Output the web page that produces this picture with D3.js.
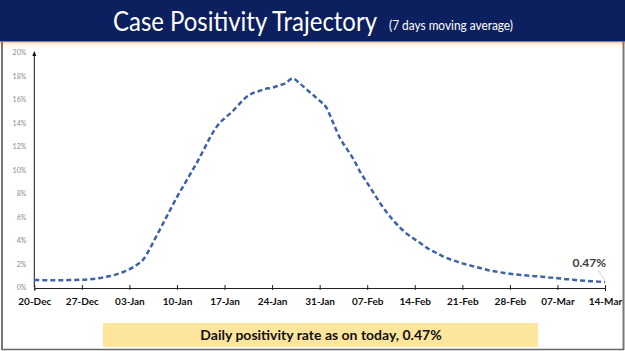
<!DOCTYPE html>
<html>
<head>
<meta charset="utf-8">
<script src="https://cdn.jsdelivr.net/npm/d3@7"></script>
<style>
  body { margin: 0; background: #fff; }
  svg { display: block; }
</style>
</head>
<body>
<svg id="drawing_region"></svg>
<script>
// daily 7-day moving average of case positivity (%), 20-Dec to 14-Mar
const startDate = '2020-12-20'
const positivity = [
  0.64, 0.63, 0.62, 0.62, 0.62, 0.63, 0.64,
  0.66, 0.70, 0.75, 0.83, 0.95, 1.10, 1.30,
  1.55, 1.90, 2.35, 3.30, 4.40, 5.50, 6.60,
  7.70, 8.70, 9.70, 10.7, 11.8, 12.9, 13.8,
  14.4, 14.9, 15.5, 16.1, 16.5, 16.7, 16.9,
  17.0, 17.2, 17.4, 17.8, 17.4, 16.9, 16.4,
  15.9, 15.3, 14.0, 12.7, 11.8, 10.9, 9.8,
  8.9, 8.0, 7.1, 6.3, 5.6, 5.0, 4.5,
  4.1, 3.7, 3.3, 3.0, 2.7, 2.45, 2.25,
  2.05, 1.9, 1.75, 1.6, 1.45, 1.35, 1.25,
  1.17, 1.1, 1.05, 1.0, 0.95, 0.9, 0.84,
  0.79, 0.73, 0.68, 0.62, 0.57, 0.53, 0.50,
  0.47
]
const yTicks = [0, 2, 4, 6, 8, 10, 12, 14, 16, 18, 20]
const xTickLabels = ['20-Dec', '27-Dec', '03-Jan', '10-Jan', '17-Jan', '24-Jan', '31-Jan',
  '07-Feb', '14-Feb', '21-Feb', '28-Feb', '07-Mar', '14-Mar']
const titleText = 'Case Positivity Trajectory'
const subtitleText = '(7 days moving average)'
const calloutText = '0.47%'
const footerText = 'Daily positivity rate as on today, 0.47%'

const W = 625, H = 351
const svg = d3.select('#drawing_region').attr('width', W).attr('height', H)

const parse = d3.timeParse('%Y-%m-%d')
const day0 = parse(startDate)
const data = positivity.map((v, i) => ({ date: d3.timeDay.offset(day0, i), value: v }))
const tickDates = xTickLabels.map((_, i) => d3.timeDay.offset(day0, i * 7))

const x = d3.scaleTime().domain([day0, data[data.length - 1].date]).range([34.3, 605])
const y = d3.scaleLinear().domain([0, 20]).range([287.5, 52.5])

// header band
svg.append('rect').attr('x', 0).attr('y', 0).attr('width', W).attr('height', 41).attr('fill', '#0c1f5e')
svg.append('rect').attr('x', 0).attr('y', 41).attr('width', W).attr('height', 1.5).attr('fill', '#c8693a')
svg.append('rect').attr('x', 0).attr('y', 42.5).attr('width', W).attr('height', 2).attr('fill', '#fbe9e2')

svg.append('text')
  .attr('x', 113).attr('y', 31)
  .attr('fill', '#fff')
  .attr('font-family', 'Lato, "Open Sans", sans-serif')
  .attr('font-size', 26)
  .attr('textLength', 264).attr('lengthAdjust', 'spacingAndGlyphs')
  .text(titleText)
svg.append('text')
  .attr('x', 389).attr('y', 30)
  .attr('fill', '#fff')
  .attr('font-family', 'Lato, "Open Sans", sans-serif')
  .attr('font-size', 12.5)
  .attr('textLength', 124).attr('lengthAdjust', 'spacingAndGlyphs')
  .text(subtitleText)

// frame
svg.append('line').attr('x1', 2).attr('x2', 2).attr('y1', 42).attr('y2', 350).attr('stroke', '#777').attr('stroke-width', 2)
svg.append('line').attr('x1', 623.5).attr('x2', 623.5).attr('y1', 42).attr('y2', 350).attr('stroke', '#777').attr('stroke-width', 2)
svg.append('line').attr('x1', 2).attr('x2', 624).attr('y1', 349.5).attr('y2', 349.5).attr('stroke', '#666').attr('stroke-width', 1.5)

// y axis
const yAxis = d3.axisLeft(y).tickValues(yTicks).tickSize(0).tickPadding(8).tickFormat(d => d + '%')
const yg = svg.append('g').attr('transform', `translate(${x.range()[0]},0)`).call(yAxis)
yg.select('.domain').remove()
yg.selectAll('text').attr('fill', '#8a8a8a').attr('font-family', 'Lato, sans-serif').attr('font-size', 7)

svg.append('defs').append('marker')
  .attr('id', 'arrow').attr('viewBox', '0 0 10 10').attr('refX', 5).attr('refY', 5)
  .attr('markerWidth', 5).attr('markerHeight', 6).attr('orient', 'auto')
  .append('path').attr('d', 'M0,1 L10,5 L0,9 Z').attr('fill', '#111')
svg.append('line')
  .attr('x1', x.range()[0]).attr('x2', x.range()[0])
  .attr('y1', y(0)).attr('y2', y(20) + 1)
  .attr('stroke', '#111').attr('stroke-width', 1)
  .attr('marker-end', 'url(#arrow)')

// x axis
const xAxis = d3.axisBottom(x).tickValues(tickDates).tickSize(3).tickPadding(7)
  .tickFormat((d, i) => xTickLabels[i])
const xg = svg.append('g').attr('transform', `translate(0,${y(0) + 0.5})`).call(xAxis)
xg.select('.domain').attr('stroke', '#222')
xg.selectAll('.tick line').attr('stroke', '#222').attr('y1', -3).attr('y2', 2)
xg.selectAll('text').attr('fill', '#111').attr('font-family', 'Lato, sans-serif')
  .attr('font-weight', 'bold').attr('font-size', 10)

// line
const line = d3.line().x(d => x(d.date)).y(d => y(d.value)).curve(d3.curveMonotoneX)
svg.append('path')
  .attr('d', line(data))
  .attr('fill', 'none')
  .attr('stroke', '#3c62a8')
  .attr('stroke-width', 2.5)
  .attr('stroke-dasharray', '5,3')

// callout
const last = data[data.length - 1]
svg.append('line')
  .attr('x1', x(last.date) - 7).attr('y1', y(last.value) - 12)
  .attr('x2', x(last.date)).attr('y2', y(last.value) - 2)
  .attr('stroke', '#c8c8c8').attr('stroke-width', 0.8)
svg.append('text')
  .attr('x', x(last.date) + 1).attr('y', y(last.value) - 15)
  .attr('text-anchor', 'end')
  .attr('fill', '#404040')
  .attr('font-family', 'Lato, sans-serif').attr('font-weight', 'bold').attr('font-size', 12)
  .text(calloutText)

// footer box
svg.append('rect').attr('x', 103).attr('y', 323).attr('width', 435).attr('height', 24).attr('fill', '#fde59e')
svg.append('text')
  .attr('x', 321).attr('y', 340)
  .attr('text-anchor', 'middle')
  .attr('fill', '#111')
  .attr('font-family', 'Lato, sans-serif').attr('font-weight', 'bold').attr('font-size', 14)
  .text(footerText)
</script>
</body>
</html>
